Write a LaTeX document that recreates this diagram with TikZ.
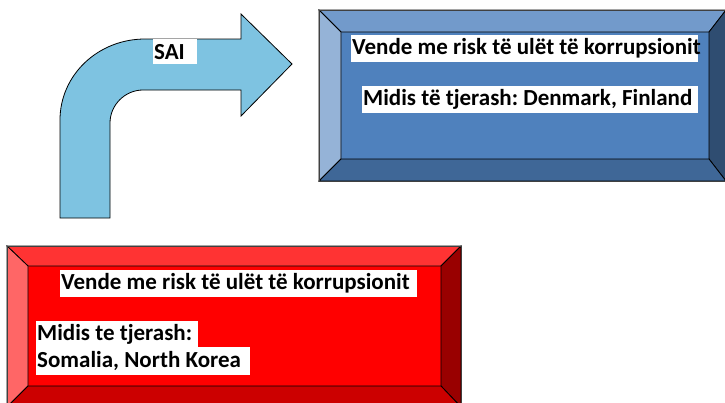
\documentclass[tikz,border=0pt]{standalone}
\usepackage{fontspec}
\setmainfont{Carlito}
\frenchspacing
\definecolor{arrowblue}{RGB}{126,195,225}
\definecolor{bmid}{RGB}{79,129,189}
\definecolor{btop}{RGB}{114,154,203}
\definecolor{bleft}{RGB}{149,179,215}
\definecolor{bbottom}{RGB}{63,103,151}
\definecolor{bright}{RGB}{47,77,113}
\definecolor{rmid}{RGB}{255,0,0}
\definecolor{rtop}{RGB}{255,51,51}
\definecolor{rleft}{RGB}{255,102,102}
\definecolor{rbottom}{RGB}{204,0,0}
\definecolor{rright}{RGB}{153,0,0}
\newcommand{\lbox}[2]{\makebox[#1][l]{#2}}
\begin{document}
\begin{tikzpicture}[x=1pt,y=-1pt,
  facet/.style={draw=black,line width=0.8pt,line join=miter},
  outer/.style={draw=black!75,line width=1pt},
  txt/.style={fill=white,anchor=north west,inner xsep=1pt,inner ysep=0pt,
    font=\bfseries\fontsize{23}{25}\selectfont\frenchspacing}]
\useasboundingbox (0,0) rectangle (725,402);
\clip (0,0) rectangle (725,402);
% arrow
\draw[fill=arrowblue,line width=0.8pt,line join=miter]
  (60,218) -- (60,120) .. controls (60,75) and (98,39) .. (145,39)
  -- (241,39) -- (241,14) -- (292,64) -- (241,116) -- (241,90) -- (143,90)
  .. controls (125,90) and (110,105) .. (110,123) -- (110,218) -- cycle;
\node[txt,minimum height=25pt] (sai) at (153,39) {\lbox{42pt}{SAI}};
% blue bevel box
\fill[bmid] (341,32) rectangle (709,159);
\filldraw[facet,fill=btop] (319,10) -- (726,10) -- (709,32) -- (341,32) -- cycle;
\filldraw[facet,fill=bleft] (319,10) -- (341,32) -- (341,159) -- (319,181) -- cycle;
\filldraw[facet,fill=bright] (726,10) -- (726,181) -- (709,159) -- (709,32) -- cycle;
\filldraw[facet,fill=bbottom] (319,181) -- (726,181) -- (709,159) -- (341,159) -- cycle;
\draw[outer] (726,10) -- (319,10) -- (319,181) -- (726,181);
\node[txt,minimum height=27pt] (b1) at (351,35) {\lbox{345pt}{Vende me risk të ulët të korrupsionit}};
\node[txt,minimum height=27pt] (b2) at (362,86) {\lbox{334pt}{Midis të tjerash: Denmark, Finland}};
% red bevel box
\fill[rmid] (28,266) rectangle (441,386);
\filldraw[facet,fill=rtop] (7,246) -- (461,246) -- (441,266) -- (28,266) -- cycle;
\filldraw[facet,fill=rleft] (7,246) -- (28,266) -- (28,386) -- (7,407) -- cycle;
\filldraw[facet,fill=rright] (461,246) -- (461,407) -- (441,386) -- (441,266) -- cycle;
\filldraw[facet,fill=rbottom] (7,407) -- (461,407) -- (441,386) -- (28,386) -- cycle;
\draw[outer] (7,407) -- (7,246) -- (461,246) -- (461,407);
\node[txt,minimum height=27pt] (r1) at (60,270) {\lbox{355pt}{Vende me risk të ulët të korrupsionit}};
\node[txt,minimum height=26pt] (r2) at (36,321) {\lbox{160pt}{Midis te tjerash:}};
\node[txt,minimum height=28pt] (r3) at (36,347) {\lbox{212pt}{Somalia, North Korea}};
\end{tikzpicture}
\end{document}
